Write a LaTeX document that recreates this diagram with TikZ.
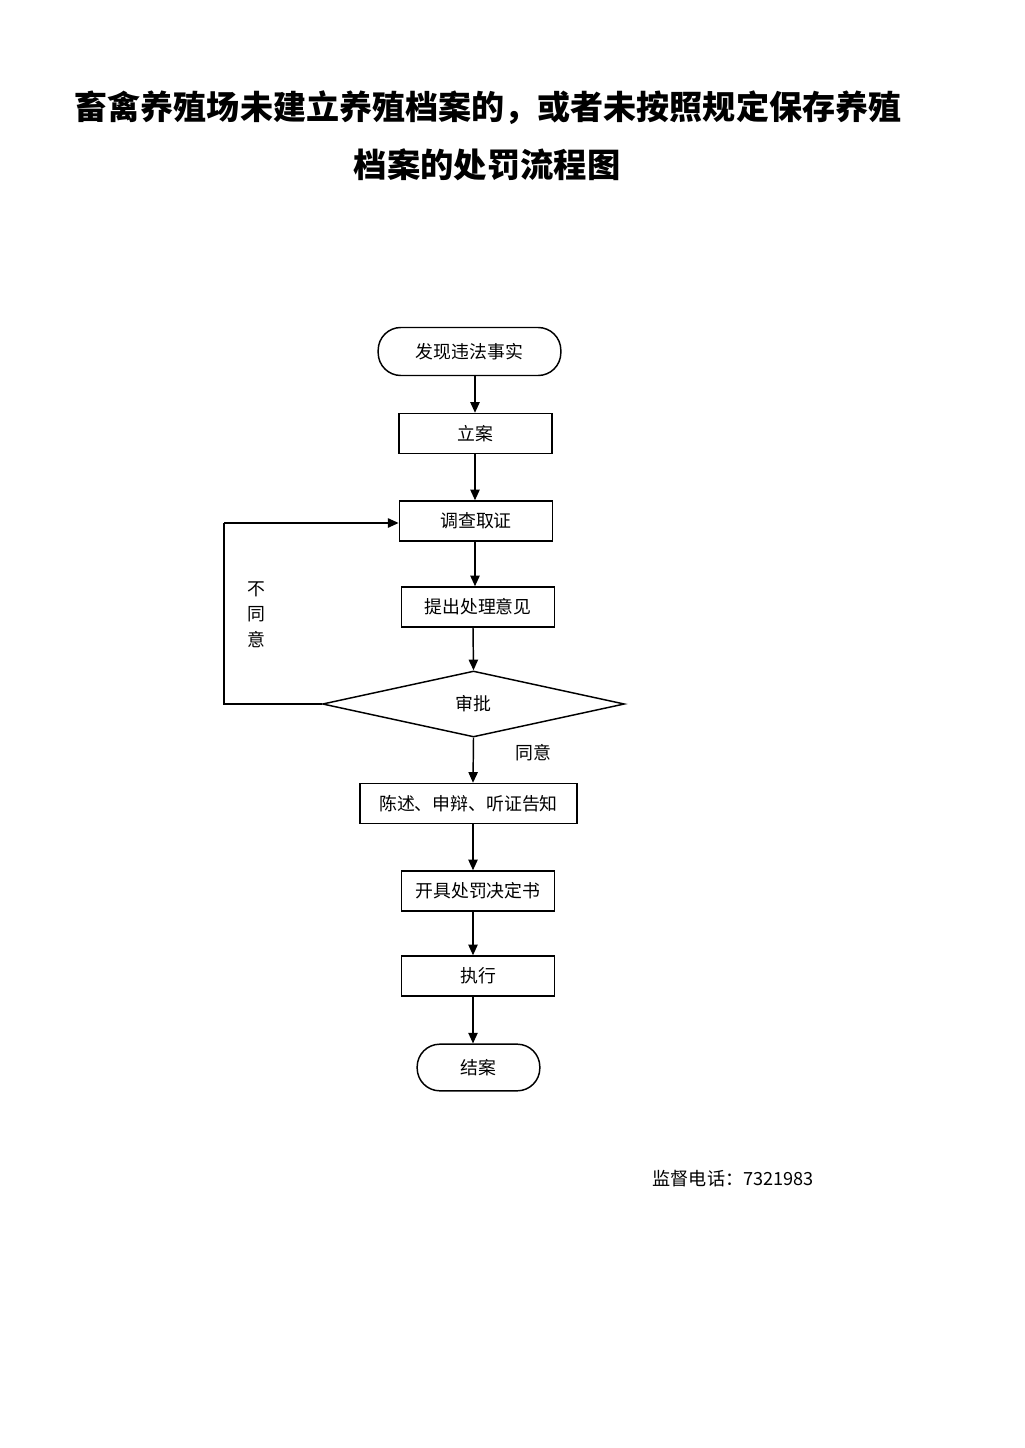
\documentclass[tikz,border=0pt]{standalone}
\usepackage{fontspec}
\setmainfont{Noto Sans CJK SC}
\newfontfamily\cjk{Noto Sans CJK SC}
\usetikzlibrary{shapes.geometric,arrows.meta}
\begin{document}
\begin{tikzpicture}[x=0.75pt,y=-0.75pt,
  every node/.style={font=\cjk\fontsize{13.4}{15}\selectfont},
  boxnode/.style={draw,line width=1.1pt,minimum height=30pt,inner sep=0pt},
  termnode/.style={draw,line width=1.1pt,rounded corners=17pt,inner sep=0pt},
  arr/.style={line width=1.1pt,-{Triangle[length=8pt,width=7pt]}},
  ln/.style={line width=1.1pt}]
\useasboundingbox[fill=white] (0,0) rectangle (1024,1448);
\node[font=\cjk\bfseries\fontsize{24.8}{28}\selectfont] (t1) at (488,108) {畜禽养殖场未建立养殖档案的，或者未按照规定保存养殖};
\node[font=\cjk\bfseries\fontsize{25}{28}\selectfont] (t2) at (487,165) {档案的处罚流程图};
\node[termnode,minimum width=137pt,minimum height=36pt] (s) at (469.5,351.5) {发现违法事实};
\node[boxnode,minimum width=115pt] (a) at (475.5,433.5) {立案};
\node[boxnode,minimum width=115pt] (b) at (476,521) {调查取证};
\node[boxnode,minimum width=115pt] (c) at (478,607) {提出处理意见};
\node[diamond,draw,line width=1.1pt,minimum width=226.5pt,minimum height=49.5pt,inner sep=0pt] (d) at (473.5,704) {审批};
\node[boxnode,minimum width=163pt] (e) at (468.5,803.5) {陈述、申辩、听证告知};
\node[boxnode,minimum width=115pt] (f) at (478,891) {开具处罚决定书};
\node[boxnode,minimum width=115pt] (g) at (478,976) {执行};
\node[termnode,minimum width=92pt,minimum height=35pt] (h) at (478.5,1067.5) {结案};
\coordinate (k1) at (224,704);
\coordinate (k2) at (224,523);
\node (no) at (256,617) {\begin{tabular}{@{}c@{}}不\\[4pt]同\\[4pt]意\end{tabular}};
\node (yes) at (533,753) {同意};
\node[anchor=west,font=\cjk\fontsize{13.6}{15}\selectfont] (tel) at (648,1179) {监督电话：7321983};
\draw[arr] (s.south -| 475,0) -- (a.north -| 475,0);
\draw[arr] (a.south -| 475,0) -- (b.north -| 475,0);
\draw[arr] (b.south -| 475,0) -- (c.north -| 475,0);
\draw[arr] (c.south -| 473,0) -- (d.north);
\draw[arr] (d.south) -- (e.north -| 473,0);
\draw[arr] (e.south -| 473,0) -- (f.north -| 473,0);
\draw[arr] (f.south -| 473,0) -- (g.north -| 473,0);
\draw[arr] (g.south -| 473,0) -- (h.north -| 473,0);
\draw[ln] (d.west) -- (k1) -- (k2);
\draw[arr] (k2) -- (b.west |- k2);
\end{tikzpicture}
\end{document}
